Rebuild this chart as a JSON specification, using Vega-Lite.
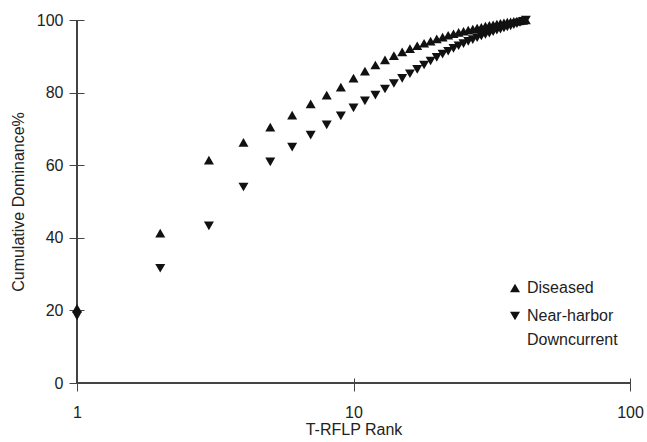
{
  "$schema": "https://vega.github.io/schema/vega-lite/v6.json",
  "width": 553,
  "height": 363,
  "autosize": {"type": "none"},
  "padding": {"left": 77, "top": 20, "right": 17, "bottom": 59},
  "background": "white",
  "config": {
    "view": {"stroke": null},
    "font": "Liberation Sans",
    "style": {"guide-label": {"lineHeight": 24}},
    "axis": {
      "domain": false,
      "grid": false,
      "tickColor": "#444",
      "tickWidth": 1,
      "labelColor": "#222",
      "labelFontSize": 16,
      "labelFont": "Liberation Sans",
      "titleColor": "#222",
      "titleFontSize": 16,
      "titleFontWeight": "normal",
      "titleFont": "Liberation Sans"
    }
  },
  "data": {
    "values": [
      {"rank": 1, "pct": 20.6, "series": "Diseased"},
      {"rank": 2, "pct": 41.3, "series": "Diseased"},
      {"rank": 3, "pct": 61.4, "series": "Diseased"},
      {"rank": 4, "pct": 66.3, "series": "Diseased"},
      {"rank": 5, "pct": 70.5, "series": "Diseased"},
      {"rank": 6, "pct": 73.8, "series": "Diseased"},
      {"rank": 7, "pct": 76.9, "series": "Diseased"},
      {"rank": 8, "pct": 79.3, "series": "Diseased"},
      {"rank": 9, "pct": 81.5, "series": "Diseased"},
      {"rank": 10, "pct": 84.0, "series": "Diseased"},
      {"rank": 11, "pct": 85.9, "series": "Diseased"},
      {"rank": 12, "pct": 87.6, "series": "Diseased"},
      {"rank": 13, "pct": 89.0, "series": "Diseased"},
      {"rank": 14, "pct": 90.2, "series": "Diseased"},
      {"rank": 15, "pct": 91.2, "series": "Diseased"},
      {"rank": 16, "pct": 92.1, "series": "Diseased"},
      {"rank": 17, "pct": 92.9, "series": "Diseased"},
      {"rank": 18, "pct": 93.6, "series": "Diseased"},
      {"rank": 19, "pct": 94.2, "series": "Diseased"},
      {"rank": 20, "pct": 94.8, "series": "Diseased"},
      {"rank": 21, "pct": 95.3, "series": "Diseased"},
      {"rank": 22, "pct": 95.8, "series": "Diseased"},
      {"rank": 23, "pct": 96.2, "series": "Diseased"},
      {"rank": 24, "pct": 96.6, "series": "Diseased"},
      {"rank": 25, "pct": 96.9, "series": "Diseased"},
      {"rank": 26, "pct": 97.2, "series": "Diseased"},
      {"rank": 27, "pct": 97.5, "series": "Diseased"},
      {"rank": 28, "pct": 97.8, "series": "Diseased"},
      {"rank": 29, "pct": 98.0, "series": "Diseased"},
      {"rank": 30, "pct": 98.3, "series": "Diseased"},
      {"rank": 31, "pct": 98.5, "series": "Diseased"},
      {"rank": 32, "pct": 98.7, "series": "Diseased"},
      {"rank": 33, "pct": 98.9, "series": "Diseased"},
      {"rank": 34, "pct": 99.1, "series": "Diseased"},
      {"rank": 35, "pct": 99.2, "series": "Diseased"},
      {"rank": 36, "pct": 99.4, "series": "Diseased"},
      {"rank": 37, "pct": 99.5, "series": "Diseased"},
      {"rank": 38, "pct": 99.6, "series": "Diseased"},
      {"rank": 39, "pct": 99.7, "series": "Diseased"},
      {"rank": 40, "pct": 99.8, "series": "Diseased"},
      {"rank": 41, "pct": 99.9, "series": "Diseased"},
      {"rank": 42, "pct": 100.0, "series": "Diseased"},
      {"rank": 1, "pct": 18.5, "series": "Near-harbor Downcurrent"},
      {"rank": 2, "pct": 31.6, "series": "Near-harbor Downcurrent"},
      {"rank": 3, "pct": 43.3, "series": "Near-harbor Downcurrent"},
      {"rank": 4, "pct": 54.0, "series": "Near-harbor Downcurrent"},
      {"rank": 5, "pct": 60.9, "series": "Near-harbor Downcurrent"},
      {"rank": 6, "pct": 65.0, "series": "Near-harbor Downcurrent"},
      {"rank": 7, "pct": 68.3, "series": "Near-harbor Downcurrent"},
      {"rank": 8, "pct": 71.1, "series": "Near-harbor Downcurrent"},
      {"rank": 9, "pct": 73.6, "series": "Near-harbor Downcurrent"},
      {"rank": 10, "pct": 75.8, "series": "Near-harbor Downcurrent"},
      {"rank": 11, "pct": 77.7, "series": "Near-harbor Downcurrent"},
      {"rank": 12, "pct": 79.3, "series": "Near-harbor Downcurrent"},
      {"rank": 13, "pct": 81.0, "series": "Near-harbor Downcurrent"},
      {"rank": 14, "pct": 82.5, "series": "Near-harbor Downcurrent"},
      {"rank": 15, "pct": 83.9, "series": "Near-harbor Downcurrent"},
      {"rank": 16, "pct": 85.2, "series": "Near-harbor Downcurrent"},
      {"rank": 17, "pct": 86.4, "series": "Near-harbor Downcurrent"},
      {"rank": 18, "pct": 87.6, "series": "Near-harbor Downcurrent"},
      {"rank": 19, "pct": 88.7, "series": "Near-harbor Downcurrent"},
      {"rank": 20, "pct": 89.7, "series": "Near-harbor Downcurrent"},
      {"rank": 21, "pct": 90.6, "series": "Near-harbor Downcurrent"},
      {"rank": 22, "pct": 91.4, "series": "Near-harbor Downcurrent"},
      {"rank": 23, "pct": 92.2, "series": "Near-harbor Downcurrent"},
      {"rank": 24, "pct": 92.9, "series": "Near-harbor Downcurrent"},
      {"rank": 25, "pct": 93.5, "series": "Near-harbor Downcurrent"},
      {"rank": 26, "pct": 94.1, "series": "Near-harbor Downcurrent"},
      {"rank": 27, "pct": 94.6, "series": "Near-harbor Downcurrent"},
      {"rank": 28, "pct": 95.1, "series": "Near-harbor Downcurrent"},
      {"rank": 29, "pct": 95.6, "series": "Near-harbor Downcurrent"},
      {"rank": 30, "pct": 96.0, "series": "Near-harbor Downcurrent"},
      {"rank": 31, "pct": 96.4, "series": "Near-harbor Downcurrent"},
      {"rank": 32, "pct": 96.8, "series": "Near-harbor Downcurrent"},
      {"rank": 33, "pct": 97.2, "series": "Near-harbor Downcurrent"},
      {"rank": 34, "pct": 97.5, "series": "Near-harbor Downcurrent"},
      {"rank": 35, "pct": 97.8, "series": "Near-harbor Downcurrent"},
      {"rank": 36, "pct": 98.1, "series": "Near-harbor Downcurrent"},
      {"rank": 37, "pct": 98.4, "series": "Near-harbor Downcurrent"},
      {"rank": 38, "pct": 98.7, "series": "Near-harbor Downcurrent"},
      {"rank": 39, "pct": 99.0, "series": "Near-harbor Downcurrent"},
      {"rank": 40, "pct": 99.3, "series": "Near-harbor Downcurrent"},
      {"rank": 41, "pct": 99.6, "series": "Near-harbor Downcurrent"},
      {"rank": 42, "pct": 100.0, "series": "Near-harbor Downcurrent"}
    ]
  },
  "layer": [
    {
      "mark": {"type": "rule", "color": "#444", "strokeWidth": 1.2},
      "encoding": {
        "x": {"datum": 1, "type": "quantitative", "scale": {"type": "log", "domain": [1, 100]}},
        "y": {"datum": 0, "type": "quantitative", "scale": {"domain": [0, 100]}},
        "y2": {"datum": 100}
      }
    },
    {
      "mark": {"type": "rule", "color": "#444", "strokeWidth": 1.2},
      "encoding": {
        "x": {"datum": 1, "type": "quantitative", "scale": {"type": "log", "domain": [1, 100]}},
        "x2": {"datum": 100},
        "y": {"datum": 0, "type": "quantitative", "scale": {"domain": [0, 100]}}
      }
    },
    {
      "mark": {"type": "point", "filled": true, "opacity": 1, "size": 100, "stroke": null},
      "encoding": {
        "x": {
          "field": "rank",
          "type": "quantitative",
          "scale": {"type": "log", "domain": [1, 100]},
          "axis": {
            "title": "T-RFLP Rank",
            "values": [1, 10, 100],
            "labelExpr": "datum.value",
            "offset": -5,
            "tickSize": 13,
            "labelPadding": 13,
            "titlePadding": 1,
            "labelFlush": false
          }
        },
        "y": {
          "field": "pct",
          "type": "quantitative",
          "scale": {"domain": [0, 100]},
          "axis": {
            "title": "Cumulative Dominance%",
            "values": [0, 20, 40, 60, 80, 100],
            "offset": -7,
            "tickSize": 15,
            "labelPadding": 6,
            "titlePadding": 10,
            "labelFlush": false
          }
        },
        "shape": {
          "field": "series",
          "type": "nominal",
          "scale": {
            "domain": ["Diseased", "Near-harbor Downcurrent"],
            "range": ["triangle-up", "triangle-down"]
          },
          "legend": {
            "title": null,
            "orient": "none",
            "legendX": 430,
            "legendY": 260,
            "padding": 0,
            "symbolSize": 100,
            "symbolFillColor": "#111",
            "symbolStrokeWidth": 0,
            "labelFontSize": 16,
            "labelColor": "#222",
            "labelFont": "Liberation Sans",
            "labelOffset": 4,
            "rowPadding": 12,
            "labelLimit": 300,
            "labelExpr": "datum.label == 'Near-harbor Downcurrent' ? ['Near-harbor', 'Downcurrent'] : datum.label"
          }
        },
        "color": {"value": "#111"}
      }
    }
  ]
}
